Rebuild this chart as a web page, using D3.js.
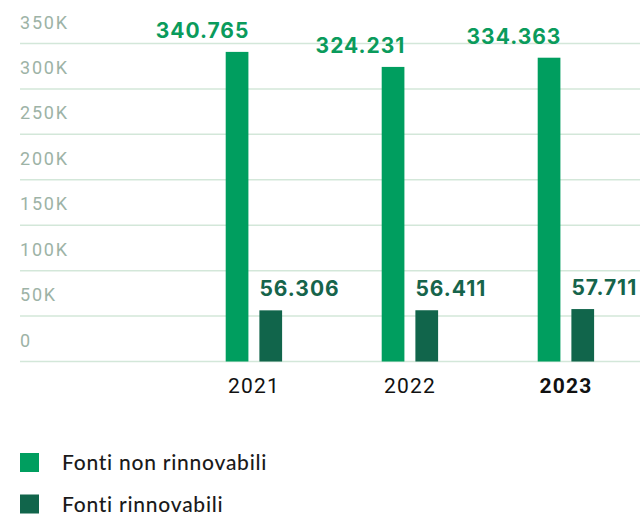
<!DOCTYPE html>
<html>
<head>
<meta charset="utf-8">
<script src="https://cdn.jsdelivr.net/npm/d3@7"></script>
<style>
  html, body { margin: 0; padding: 0; background: #ffffff; }
  svg { display: block; }
</style>
</head>
<body>
<svg id="chart" width="640" height="515"></svg>
<script>
// Energy consumption by source, per year
const years = ["2021", "2022", "2023"];
const series = ["Fonti non rinnovabili", "Fonti rinnovabili"];
const nonRenewable = [340765, 324231, 334363];
const renewable = [56306, 56411, 57711];
const valueLabelsNonRenewable = ["340.765", "324.231", "334.363"];
const valueLabelsRenewable = ["56.306", "56.411", "57.711"];
const yTicks = [0, 50000, 100000, 150000, 200000, 250000, 300000, 350000];
const yTickLabels = ["0", "50K", "100K", "150K", "200K", "250K", "300K", "350K"];

const colors = ["#009e5f", "#11654b"];
const labelColors = ["#0a9b5c", "#16644b"];

const svg = d3.select("#chart");

const y = d3.scaleLinear().domain([0, 350000]).range([361.5, 43.5]);
const x = d3.scaleBand().domain(years).range([176, 644]).padding(0);
const xInner = d3.scaleBand().domain(series).range([49.7, 106.1]).paddingInner(0.326).paddingOuter(0);

// gridlines
svg.append("g")
  .selectAll("line")
  .data(yTicks)
  .join("line")
  .attr("x1", 20)
  .attr("x2", 640)
  .attr("y1", d => y(d))
  .attr("y2", d => y(d))
  .attr("stroke", "#d3e7d9")
  .attr("stroke-width", 1.5);

// y tick labels, sitting above each gridline
svg.append("g")
  .selectAll("text")
  .data(yTicks)
  .join("text")
  .attr("x", 20)
  .attr("y", d => y(d) - 15)
  .attr("fill", "#9db3a6")
  .attr("font-family", "Roboto, sans-serif")
  .attr("font-size", 18)
  .attr("letter-spacing", 1.8)
  .text((d, i) => yTickLabels[i]);

const rows = years.map((yr, i) => ({
  year: yr,
  values: [
    { s: series[0], v: nonRenewable[i], label: valueLabelsNonRenewable[i], k: 0 },
    { s: series[1], v: renewable[i], label: valueLabelsRenewable[i], k: 1 }
  ]
}));

const groups = svg.append("g")
  .selectAll("g")
  .data(rows)
  .join("g")
  .attr("transform", d => `translate(${x(d.year)},0)`);

groups.selectAll("rect")
  .data(d => d.values)
  .join("rect")
  .attr("x", d => xInner(d.s))
  .attr("width", xInner.bandwidth())
  .attr("y", d => y(d.v))
  .attr("height", d => y(0) - y(d.v))
  .attr("fill", d => colors[d.k]);

groups.selectAll("text.val")
  .data(d => d.values)
  .join("text")
  .attr("class", "val")
  .attr("x", d => d.k === 0 ? xInner(d.s) + xInner.bandwidth() + 1 : xInner(d.s))
  .attr("y", d => y(d.v) - 14)
  .attr("text-anchor", d => d.k === 0 ? "end" : "start")
  .attr("fill", d => labelColors[d.k])
  .attr("font-family", "Inter, Roboto, sans-serif")
  .attr("font-weight", 700)
  .attr("font-size", 21)
  .attr("letter-spacing", 1)
  .text(d => d.label);

// year labels
svg.append("g")
  .selectAll("text")
  .data(years)
  .join("text")
  .attr("x", d => x(d) + x.bandwidth() / 2)
  .attr("y", 393)
  .attr("text-anchor", "middle")
  .attr("fill", "#111111")
  .attr("font-family", "Roboto, sans-serif")
  .attr("font-size", 21)
  .attr("font-weight", (d, i) => i === years.length - 1 ? 700 : 400)
  .attr("letter-spacing", 1.2)
  .text(d => d);

// legend
const legend = svg.append("g")
  .selectAll("g")
  .data(series)
  .join("g")
  .attr("transform", (d, i) => `translate(20,${453 + i * 41.5})`);

legend.append("rect")
  .attr("width", 19)
  .attr("height", 19)
  .attr("fill", (d, i) => colors[i]);

legend.append("text")
  .attr("x", 42)
  .attr("y", 17)
  .attr("fill", "#1a1a1a")
  .attr("font-family", "Lato, sans-serif")
  .attr("font-size", 21)
  .attr("font-weight", 500)
  .attr("letter-spacing", 0.75)
  .text(d => d);
</script>
</body>
</html>
